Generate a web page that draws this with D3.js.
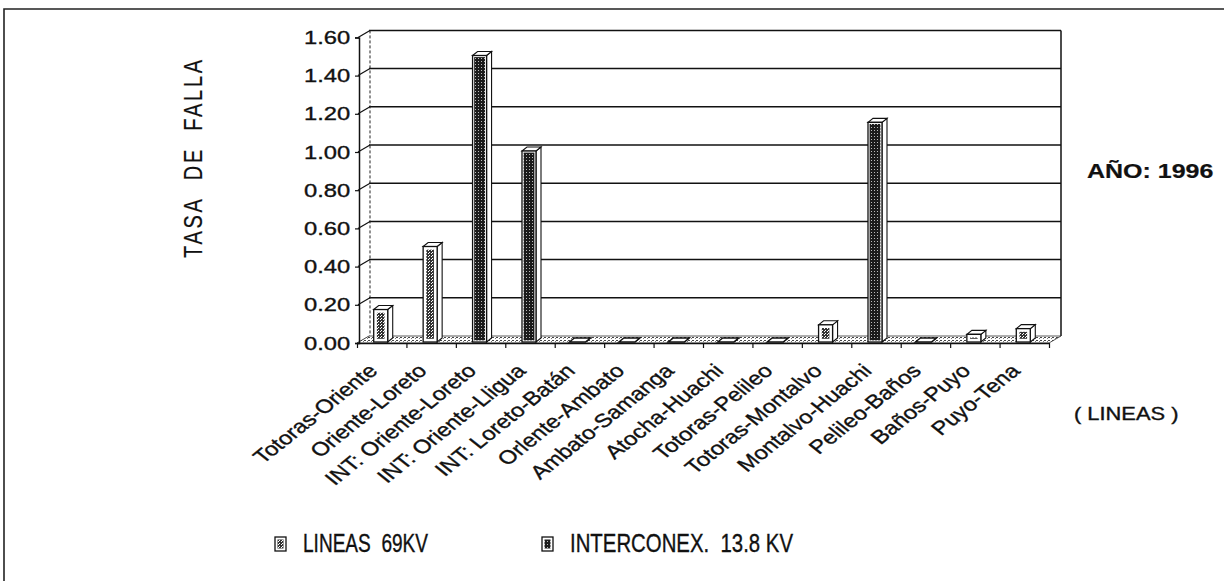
<!DOCTYPE html>
<html>
<head>
<meta charset="utf-8">
<script src="https://cdn.jsdelivr.net/npm/d3@7/dist/d3.min.js"></script>
<style>
  html, body { margin: 0; padding: 0; background: #fff; }
  svg { display: block; }
  text { font-family: "Liberation Sans", Arial, sans-serif; fill: #111; stroke: #111; stroke-width: 0.35px; }
</style>
</head>
<body>
<svg id="chart" width="1224" height="581"></svg>
<script>
// Failure rate per line, year 1996
const categories = [
  "Totoras-Oriente", "Oriente-Loreto", "INT: Oriente-Loreto", "INT: Oriente-Lligua",
  "INT: Loreto-Batán", "Orlente-Ambato", "Ambato-Samanga", "Atocha-Huachi",
  "Totoras-Pelileo", "Totoras-Montalvo", "Montalvo-Huachi", "Pelileo-Baños",
  "Baños-Puyo", "Puyo-Tena"
];
const lineas69 =   [0.17, 0.50, 0, 0, 0, 0, 0, 0, 0, 0.09, 0, 0, 0.04, 0.07];
const interconex = [0, 0, 1.50, 1.00, 0, 0, 0, 0, 0, 0, 1.15, 0, 0, 0];
const yTicks = [0, 0.2, 0.4, 0.6, 0.8, 1.0, 1.2, 1.4, 1.6];
const seriesNames = ["LINEAS\u00A0\u00A069KV", "INTERCONEX.\u00A0\u00A013.8 KV"];

const svg = d3.select("#chart");
const SX = 1.25;            // horizontal stretch of all lettering
const DX = 12, DY = -7;     // depth offset of the back wall
const BDX = 5, BDY = -4;    // depth of each column

const x = d3.scaleLinear().domain([0, categories.length]).range([357, 1049]);
const y = d3.scaleLinear().domain([0, 1.6]).range([343, 37.4]);
const cx = i => x(i + 0.5);

// texture patterns
const defs = svg.append("defs");
const pDark = defs.append("pattern").attr("id", "stipDark")
  .attr("width", 3).attr("height", 3).attr("patternUnits", "userSpaceOnUse");
pDark.append("rect").attr("width", 3).attr("height", 3).attr("fill", "#1b1b1b");
pDark.append("rect").attr("x", 1).attr("y", 1).attr("width", 1).attr("height", 1).attr("fill", "#bbb");
const pMid = defs.append("pattern").attr("id", "stipMid")
  .attr("width", 3).attr("height", 3).attr("patternUnits", "userSpaceOnUse");
pMid.append("rect").attr("width", 3).attr("height", 3).attr("fill", "#333");
pMid.append("rect").attr("x", 0).attr("y", 0).attr("width", 1).attr("height", 1).attr("fill", "#fff");
pMid.append("rect").attr("x", 2).attr("y", 1).attr("width", 1).attr("height", 1).attr("fill", "#fff");
const pFloor = defs.append("pattern").attr("id", "floorDots")
  .attr("width", 4).attr("height", 3).attr("patternUnits", "userSpaceOnUse");
pFloor.append("rect").attr("width", 4).attr("height", 3).attr("fill", "#fff");
pFloor.append("rect").attr("x", 0).attr("y", 1).attr("width", 2).attr("height", 1).attr("fill", "#444");
pFloor.append("rect").attr("x", 3).attr("y", 2).attr("width", 1).attr("height", 1).attr("fill", "#777");

// outer frame
svg.append("path").attr("d", "M4,581 L4,9 L1224,9")
  .attr("fill", "none").attr("stroke", "#222").attr("stroke-width", 1.6);

// helper for stretched text
function label(g, tx, ty, str, opts) {
  const t = g.append("text")
    .attr("transform", `translate(${tx},${ty}) scale(${opts.sx || SX},1) rotate(${opts.rot || 0})`)
    .attr("font-size", opts.size)
    .attr("font-weight", opts.weight || "normal")
    .attr("text-anchor", opts.anchor || "start")
    .text(str);
  if (opts.len) t.attr("textLength", opts.len).attr("lengthAdjust", opts.adjust || "spacing");
  return t;
}

// back wall: gridlines, left dashed edge, right edge
const wall = svg.append("g");
yTicks.filter(v => v > 0).forEach(v => {
  wall.append("line")
    .attr("x1", x(0) + DX).attr("x2", x(categories.length) + DX)
    .attr("y1", y(v) + DY).attr("y2", y(v) + DY)
    .attr("stroke", "#111").attr("stroke-width", 1.5);
});
yTicks.forEach(v => {
  wall.append("line")
    .attr("x1", x(0) + 1).attr("y1", y(v))
    .attr("x2", x(0) + DX + 1).attr("y2", y(v) + DY)
    .attr("stroke", "#111").attr("stroke-width", 1.2);
});
wall.append("line")
  .attr("x1", x(0) + DX + 1).attr("x2", x(0) + DX + 1)
  .attr("y1", y(1.6) + DY).attr("y2", y(0) + DY - 2)
  .attr("stroke", "#222").attr("stroke-width", 1).attr("stroke-dasharray", "3,2");
wall.append("line")
  .attr("x1", x(categories.length) + DX).attr("x2", x(categories.length) + DX)
  .attr("y1", y(1.6) + DY).attr("y2", y(0) + DY)
  .attr("stroke", "#111").attr("stroke-width", 1.5);

// floor
svg.append("polygon")
  .attr("points", [[x(0), y(0)], [x(categories.length), y(0)],
                   [x(categories.length) + DX, y(0) + DY], [x(0) + DX, y(0) + DY]].join(" "))
  .attr("fill", "url(#floorDots)").attr("stroke", "#333").attr("stroke-width", 0.8);

// y axis
const yAxis = svg.append("g").attr("transform", `translate(${x(0) + 2},0)`)
  .call(d3.axisLeft(y).tickValues(yTicks).tickFormat(d3.format(".2f")).tickSize(4).tickPadding(3));
yAxis.select(".domain").attr("stroke", "#111").attr("stroke-width", 1.5);
yAxis.selectAll(".tick line").attr("stroke", "#111").attr("stroke-width", 1.2);
yAxis.selectAll(".tick text")
  .attr("font-size", 19).attr("fill", "#111")
  .attr("font-family", "Liberation Sans, Arial, sans-serif")
  .attr("transform", `scale(${SX},1)`);

// x axis (ticks at category boundaries)
const xAxis = svg.append("g").attr("transform", `translate(0,${y(0)})`)
  .call(d3.axisBottom(x).tickValues(d3.range(categories.length + 1)).tickFormat("").tickSize(5).tickSizeOuter(0));
xAxis.select(".domain").attr("stroke", "#111").attr("stroke-width", 1.5);
xAxis.selectAll(".tick line").attr("stroke", "#111").attr("stroke-width", 1.2);

// columns
const bars = svg.append("g");
function column(i, v, dark) {
  const c = cx(i);
  const flat = v === 0;
  const x0 = c - (flat ? 10 : 8), x1 = c + (flat ? 6 : 6);
  const yb = y(0) - 1, yt = y(v) - 1;
  const g = bars.append("g");
  // side face
  g.append("polygon")
    .attr("points", [[x1, yb], [x1 + BDX, yb + BDY], [x1 + BDX, yt + BDY], [x1, yt]].join(" "))
    .attr("fill", "#fff").attr("stroke", "#111").attr("stroke-width", 1.1);
  // top face
  g.append("polygon")
    .attr("points", [[x0, yt], [x0 + BDX, yt + BDY], [x1 + BDX, yt + BDY], [x1, yt]].join(" "))
    .attr("fill", "#fff").attr("stroke", "#111").attr("stroke-width", flat ? 1.4 : 1.1);
  if (yb - yt > 0.5) {
    g.append("rect").attr("x", x0).attr("y", yt).attr("width", x1 - x0).attr("height", yb - yt)
      .attr("fill", "#fff").attr("stroke", "#111").attr("stroke-width", 1.3);
    const inset = dark ? 1.6 : 3.2;
    const h = yb - yt - 2 * inset;
    if (h > 0) {
      g.append("rect").attr("x", x0 + inset).attr("y", yt + inset)
        .attr("width", x1 - x0 - 2 * inset).attr("height", h)
        .attr("fill", dark ? "url(#stipDark)" : "url(#stipMid)");
    }
  }
}
categories.forEach((name, i) => {
  if (lineas69[i] > 0) column(i, lineas69[i], false);
  if (interconex[i] > 0) column(i, interconex[i], true);
  if (lineas69[i] === 0 && interconex[i] === 0) column(i, 0, false);
});

// category labels
const xl = svg.append("g");
categories.forEach((name, i) => {
  label(xl, cx(i) - 3, 372, name, { size: 19, rot: -45, anchor: "end" });
});

// axis titles and notes
const notes = svg.append("g");
label(notes, 202, 159, "TASA\u00A0\u00A0DE\u00A0\u00A0FALLA", { size: 20, rot: -90, anchor: "middle", len: 198 })
  .style("stroke-width", "0.15px");
label(notes, 1087, 178, "AÑO: 1996", { size: 20, weight: "bold" }).style("stroke-width", "0.2px");
label(notes, 1074, 420, "( LINEAS )", { size: 17.5 });

// legend
const legend = svg.append("g");
const sw = [{ x: 275, dark: false }, { x: 542, dark: true }];
sw.forEach((s, k) => {
  legend.append("rect").attr("x", s.x).attr("y", 537).attr("width", 11).attr("height", 14)
    .attr("fill", "#fff").attr("stroke", "#111").attr("stroke-width", 1.3);
  legend.append("rect").attr("x", s.x + 2.5).attr("y", 539.5).attr("width", 6).attr("height", 9)
    .attr("fill", s.dark ? "url(#stipDark)" : "url(#stipMid)");
  const tx = k === 0 ? 303 : 570;
  legend.append("text").attr("x", tx).attr("y", 552)
    .attr("font-size", 25).attr("textLength", k === 0 ? 125 : 223)
    .attr("lengthAdjust", "spacingAndGlyphs")
    .text(seriesNames[k]);
});
</script>
</body>
</html>
